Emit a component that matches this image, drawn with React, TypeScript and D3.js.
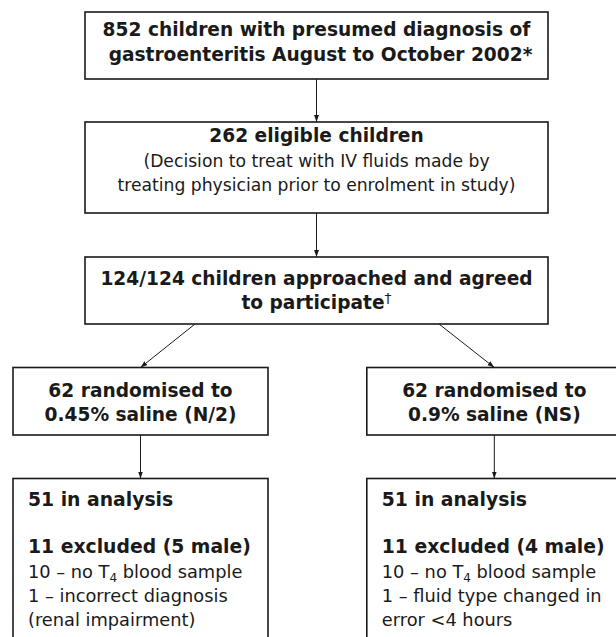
import React, { useEffect, useRef } from "react";
import * as d3 from "d3";

// flow of participants
const screenedLines = ["852 children with presumed diagnosis of", "gastroenteritis August to October 2002*"];
const eligibleTitle = "262 eligible children";
const eligibleNote = ["(Decision to treat with IV fluids made by", "treating physician prior to enrolment in study)"];
const approachedLines = ["124/124 children approached and agreed", "to participate"];
const armCounts = [62, 62];
const armFluids = ["0.45% saline (N/2)", "0.9% saline (NS)"];
const analysedCounts = [51, 51];
const excludedCounts = [11, 11];
const excludedMale = [5, 4];
const noSampleCounts = [10, 10];
const otherReasons = [
  ["1 – incorrect diagnosis", "(renal impairment)"],
  ["1 – fluid type changed in", "error <4 hours"],
];

const W = 616;
const H = 637;
const FONT = "'DejaVu Sans', sans-serif";
const INK = "#1a1a1a";

export default function App() {
  const svgRef = useRef<SVGSVGElement>(null);

  useEffect(() => {
    const svg = d3.select(svgRef.current).attr("width", W).attr("height", H);
    svg.selectAll("*").remove();
    svg.append("rect").attr("width", W).attr("height", H).attr("fill", "#fff");

    svg
      .append("defs")
      .append("marker")
      .attr("id", "head")
      .attr("viewBox", "0 0 10 10")
      .attr("refX", 10)
      .attr("refY", 5)
      .attr("markerWidth", 7)
      .attr("markerHeight", 7)
      .attr("markerUnits", "userSpaceOnUse")
      .attr("orient", "auto")
      .append("path")
      .attr("d", "M0,1.5L10,5L0,8.5Z")
      .attr("fill", INK);

    // two columns for the arms, centred on the main stem
    const col = d3.scaleOrdinal<number, number>().domain([0, 1]).range([140.5, 494.3]);
    const mid = 316.5;

    const box = (x0: number, y0: number, x1: number, y1: number) =>
      svg
        .append("rect")
        .attr("x", x0)
        .attr("y", y0)
        .attr("width", x1 - x0)
        .attr("height", y1 - y0)
        .attr("fill", "none")
        .attr("stroke", INK)
        .attr("stroke-width", 1.6);

    const arrow = (x0: number, y0: number, x1: number, y1: number) =>
      svg
        .append("line")
        .attr("x1", x0)
        .attr("y1", y0)
        .attr("x2", x1)
        .attr("y2", y1)
        .attr("stroke", INK)
        .attr("stroke-width", 1)
        .attr("marker-end", "url(#head)");

    const label = (s: string, x: number, y: number, size: number, bold: boolean, anchor = "middle") =>
      svg
        .append("text")
        .attr("x", x)
        .attr("y", y)
        .attr("text-anchor", anchor)
        .attr("font-family", FONT)
        .attr("font-size", size)
        .attr("font-weight", bold ? "bold" : "normal")
        .attr("fill", INK)
        .text(s);

    // main stem
    box(85, 12, 548, 79);
    screenedLines.forEach((s, i) => label(s, mid + i * 4, 36 + i * 25, 18.6, true));
    arrow(mid, 79, mid, 122);

    box(85, 122, 548, 213);
    label(eligibleTitle, mid, 142, 18.6, true);
    eligibleNote.forEach((s, i) => label(s, mid, 167 + i * 24, 17.2, false));
    arrow(mid, 213, mid, 257);

    box(85, 257, 548, 324);
    label(approachedLines[0], mid, 285, 18.6, true);
    const p = label(approachedLines[1], mid, 309, 18.6, true);
    p.append("tspan").attr("dy", -6).attr("font-size", 14).attr("font-weight", "normal").text("†");

    // arms
    const armW = 255;
    const startX = [195, 439];
    armCounts.forEach((n, i) => {
      const cx = col(i);
      arrow(startX[i], 324, cx, 367.5);
      box(cx - armW / 2, 367.5, cx + armW / 2, 435);
      label(`${n} randomised to`, cx, 397, 18.6, true);
      label(armFluids[i], cx, 421, 18.6, true);
      arrow(cx, 435, cx, 478.5);

      const x0 = cx - armW / 2;
      box(x0, 478.5, x0 + armW, H + 10);
      const tx = x0 + 15;
      label(`${analysedCounts[i]} in analysis`, tx, 506, 18.8, true, "start");
      label(`${excludedCounts[i]} excluded (${excludedMale[i]} male)`, tx, 553, 18.8, true, "start");
      const t = label(`${noSampleCounts[i]} – no T`, tx, 578, 17.8, false, "start");
      t.append("tspan").attr("dy", 4).attr("font-size", 12).text("4");
      t.append("tspan").attr("dy", -4).text(" blood sample");
      otherReasons[i].forEach((s, j) => label(s, tx, 602 + j * 23.5, 17.8, false, "start"));
    });
  }, []);

  return <svg ref={svgRef} style={{ position: "absolute", left: 0, top: 0, display: "block" }}></svg>;
}
